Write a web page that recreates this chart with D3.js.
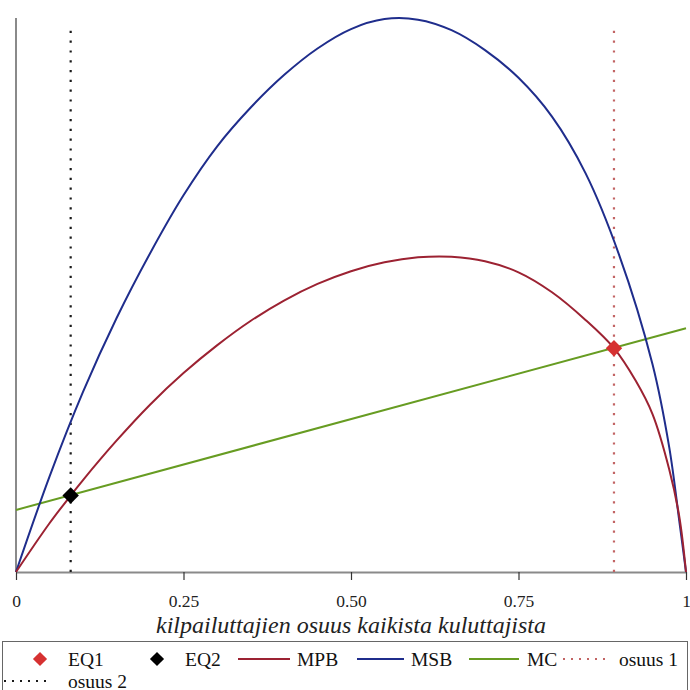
<!DOCTYPE html>
<html>
<head>
<meta charset="utf-8">
<script src="https://cdn.jsdelivr.net/npm/d3@7"></script>
<style>
  html, body { margin: 0; padding: 0; background: #fff; }
  svg { display: block; font-family: "Liberation Serif", "Times New Roman", serif; }
</style>
</head>
<body>
<svg id="chart" width="690" height="690"></svg>
<script>
// Share of competitors (x) and the benefit / cost curves
const xTickValues = [0, 0.25, 0.5, 0.75, 1];
const xTickLabels = ["0", "0.25", "0.50", "0.75", "1"];
const xTitle = "kilpailuttajien osuus kaikista kuluttajista";

// Marginal private benefit
const mpbX = [0, 0.05, 0.0816, 0.10, 0.15, 0.20, 0.25, 0.30, 0.35, 0.40, 0.45, 0.50, 0.55, 0.60, 0.65, 0.70, 0.75, 0.80, 0.85, 0.8925, 0.925, 0.95, 0.975, 0.99, 1];
const mpbV = [0, 0.088, 0.138, 0.166, 0.237, 0.302, 0.359, 0.409, 0.453, 0.490, 0.520, 0.543, 0.559, 0.568, 0.569, 0.561, 0.541, 0.505, 0.455, 0.404, 0.345, 0.285, 0.185, 0.100, 0];

// Marginal social benefit
const msbX = [0, 0.05, 0.10, 0.15, 0.20, 0.25, 0.30, 0.35, 0.40, 0.45, 0.50, 0.55, 0.60, 0.65, 0.70, 0.75, 0.80, 0.85, 0.90, 0.95, 0.975, 0.99, 1];
const msbV = [0, 0.172, 0.325, 0.458, 0.575, 0.680, 0.768, 0.838, 0.897, 0.945, 0.980, 0.998, 0.997, 0.978, 0.942, 0.892, 0.822, 0.720, 0.573, 0.375, 0.225, 0.092, 0];

// Marginal cost (straight line)
const mcX = [0, 1];
const mcV = [0.112, 0.440];

// Equilibria and the two shares
const eqNames = ["EQ1", "EQ2"];
const eqX = [0.8925, 0.0816];
const eqV = [0.404, 0.138];
const shareNames = ["osuus 1", "osuus 2"];
const shareX = [0.8925, 0.0816];
const shareTop = 0.978;

const legendLabels = ["EQ1", "EQ2", "MPB", "MSB", "MC", "osuus 1", "osuus 2"];

const C = {
  mpb: "#9c2232",
  msb: "#1f2d8c",
  mc: "#679c22",
  eq1: "#d63131",
  eq2: "#000000",
  os1: "#c26464",
  os2: "#1a1a1a",
  axis: "#8a8a8a"
};

const svg = d3.select("#chart");
const x = d3.scaleLinear().domain([0, 1]).range([16, 686]);
const y = d3.scaleLinear().domain([0, 1]).range([572, 18]);
const serif = "Liberation Serif, Times New Roman, serif";

// y axis: plain line, no ticks
svg.append("line")
  .attr("x1", x(0)).attr("x2", x(0))
  .attr("y1", y(0)).attr("y2", y(1))
  .attr("stroke", C.axis).attr("stroke-width", 2);

// x axis
const xAxis = svg.append("g")
  .attr("transform", `translate(0,${y(0)})`)
  .call(d3.axisBottom(x)
    .tickValues(xTickValues)
    .tickFormat((d, i) => xTickLabels[i])
    .tickSize(8)
    .tickSizeOuter(0));
xAxis.attr("font-family", serif).attr("font-size", 17.5);
xAxis.select(".domain").attr("stroke", C.axis).attr("stroke-width", 2);
xAxis.selectAll(".tick line").attr("stroke", "#333").attr("stroke-width", 1.2);
xAxis.selectAll(".tick text")
  .attr("y", 35).attr("dy", null)
  .attr("fill", "#222");

svg.append("text")
  .attr("x", 351).attr("y", 633)
  .attr("text-anchor", "middle")
  .attr("font-family", serif).attr("font-size", 24).attr("font-style", "italic")
  .attr("fill", "#222")
  .text(xTitle);

// vertical share lines
const shareColors = [C.os1, C.os2];
svg.selectAll("line.share").data(shareX).join("line")
  .attr("class", "share")
  .attr("x1", d => x(d)).attr("x2", d => x(d))
  .attr("y1", y(0)).attr("y2", y(shareTop))
  .attr("stroke", (d, i) => shareColors[i])
  .attr("stroke-width", 2.2)
  .attr("stroke-dasharray", "2.2 7.6");

const line = d3.line().x(d => x(d[0])).y(d => y(d[1])).curve(d3.curveCatmullRom.alpha(0.5));
const zip = (a, b) => a.map((v, i) => [v, b[i]]);

svg.append("path").datum(zip(mcX, mcV))
  .attr("d", line).attr("fill", "none")
  .attr("stroke", C.mc).attr("stroke-width", 2);
svg.append("path").datum(zip(msbX, msbV))
  .attr("d", line).attr("fill", "none")
  .attr("stroke", C.msb).attr("stroke-width", 2);
svg.append("path").datum(zip(mpbX, mpbV))
  .attr("d", line).attr("fill", "none")
  .attr("stroke", C.mpb).attr("stroke-width", 2);

// equilibrium diamonds
const diamond = d3.symbol().type(d3.symbolSquare).size(135);
const eqColors = [C.eq1, C.eq2];
svg.selectAll("path.eq").data(eqX).join("path")
  .attr("class", "eq")
  .attr("d", diamond)
  .attr("transform", (d, i) => `translate(${x(d)},${y(eqV[i])}) rotate(45)`)
  .attr("fill", (d, i) => eqColors[i]);

// legend
svg.append("rect")
  .attr("x", 2.5).attr("y", 641.5).attr("width", 685).attr("height", 70)
  .attr("fill", "none").attr("stroke", "#666").attr("stroke-width", 1);

const legendItems = [
  { kind: "diamond", color: C.eq1, x0: 16, x1: 64, tx: 68, row: 0 },
  { kind: "diamond", color: C.eq2, x0: 133, x1: 181, tx: 185, row: 0 },
  { kind: "line", color: C.mpb, x0: 238, x1: 290, tx: 297, row: 0 },
  { kind: "line", color: C.msb, x0: 357, x1: 404, tx: 411, row: 0 },
  { kind: "line", color: C.mc, x0: 469, x1: 519, tx: 527, row: 0 },
  { kind: "dots", color: C.os1, x0: 563, x1: 610, tx: 619, row: 0 },
  { kind: "dots", color: C.os2, x0: 4, x1: 51, tx: 68, row: 1 }
];
const rowMid = [659, 681];
const legendDiamond = d3.symbol().type(d3.symbolSquare).size(100);
legendItems.forEach((it, i) => {
  const cy = rowMid[it.row];
  if (it.kind === "diamond") {
    svg.append("path").attr("d", legendDiamond)
      .attr("transform", `translate(${(it.x0 + it.x1) / 2},${cy}) rotate(45)`)
      .attr("fill", it.color);
  } else {
    svg.append("line")
      .attr("x1", it.x0).attr("x2", it.x1).attr("y1", cy).attr("y2", cy)
      .attr("stroke", it.color).attr("stroke-width", 2)
      .attr("stroke-dasharray", it.kind === "dots" ? "2 6" : null);
  }
  svg.append("text")
    .attr("x", it.tx).attr("y", cy + 6.5)
    .attr("font-family", serif).attr("font-size", 19.5)
    .attr("fill", "#111")
    .text(legendLabels[i]);
});
</script>
</body>
</html>
